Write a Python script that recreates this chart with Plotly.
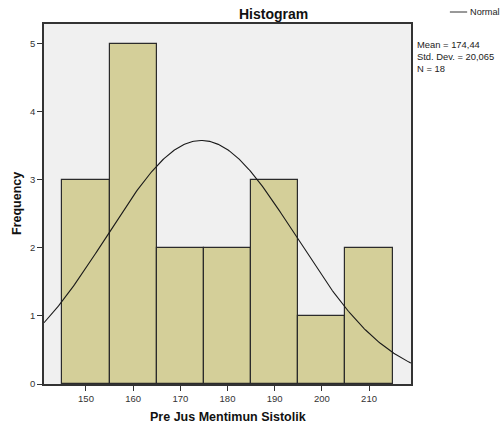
import numpy as np
import plotly.graph_objects as go

# Data
bin_centers = [150, 160, 170, 180, 190, 200, 210]
counts = [3, 5, 2, 2, 3, 1, 2]
bin_width = 10
mean_val = 174.44
sd_val = 20.065
n_val = 18
stats_lines = ["Mean = 174,44", "Std. Dev. = 20,065", "N = 18"]
x_ticks = [150, 160, 170, 180, 190, 200, 210]
y_ticks = [0, 1, 2, 3, 4, 5]

x_range = [141.1, 218.9]
y_range = [0, 5.29]

# Normal curve scaled to the histogram (as SPSS draws it)
xc = np.linspace(x_range[0], x_range[1], 300)
yc = n_val * bin_width / (sd_val * np.sqrt(2 * np.pi)) * np.exp(-0.5 * ((xc - mean_val) / sd_val) ** 2)

FONT = "Liberation Sans, Arial, sans-serif"

fig = go.Figure()
fig.add_trace(go.Bar(
    x=bin_centers, y=counts, width=bin_width,
    marker=dict(color="#D4CF99", line=dict(color="#2b2b2b", width=1.2)),
    showlegend=False, hoverinfo="skip",
))
fig.add_trace(go.Scatter(
    x=xc, y=yc, mode="lines", line=dict(color="#1a1a1a", width=1.1),
    showlegend=False, hoverinfo="skip",
))

fig.update_layout(
    width=501, height=428,
    margin=dict(l=44, r=90, t=24, b=44),
    paper_bgcolor="white",
    plot_bgcolor="#F0F0F0",
    bargap=0,
    font=dict(family=FONT, color="#222"),
    xaxis=dict(
        range=x_range, tickvals=x_ticks, ticks="outside", ticklen=5, tickcolor="#333",
        tickfont=dict(size=9.5, color="#333"),
        showline=True, linecolor="#333", linewidth=1.5, mirror=True,
        showgrid=False, zeroline=False, automargin=False,
    ),
    yaxis=dict(
        range=y_range, tickvals=y_ticks, ticks="outside", ticklen=5, tickcolor="#333",
        tickfont=dict(size=9.5, color="#333"),
        showline=True, linecolor="#333", linewidth=1.5, mirror=True,
        showgrid=False, zeroline=False, automargin=False,
    ),
)

# Axis titles
fig.add_annotation(text="<b>Pre Jus Mentimun Sistolik</b>", xref="paper", yref="paper",
                   x=0.5, y=(384 - 417) / 360, xanchor="center", yanchor="middle",
                   showarrow=False, font=dict(size=12.5, color="#111"))
fig.add_annotation(text="<b>Frequency</b>", xref="paper", yref="paper",
                   x=(17 - 44) / 367, y=0.5, xanchor="center", yanchor="middle",
                   textangle=-90, showarrow=False, font=dict(size=12.5, color="#111"))

# Title
fig.add_annotation(text="<b>Histogram</b>", xref="paper", yref="paper",
                   x=0.624, y=(384 - 14) / 360, xanchor="center", yanchor="middle",
                   showarrow=False, font=dict(size=14, color="#111"))

# Legend (line + text)
fig.add_shape(type="line", xref="paper", yref="paper",
              x0=1.106, x1=1.153, y0=(384 - 12) / 360, y1=(384 - 12) / 360,
              line=dict(color="#333", width=1))
fig.add_annotation(text="Normal", xref="paper", yref="paper",
                   x=1.156, y=(384 - 12) / 360, xanchor="left", yanchor="middle",
                   showarrow=False, font=dict(size=9.2, color="#222"))

# Stats block (one multi-line text)
fig.add_annotation(text="<br>".join(stats_lines), xref="paper", yref="paper",
                   x=(416 - 44) / 367, y=(384 - 38) / 360, xanchor="left", yanchor="top",
                   align="left", borderpad=0,
                   showarrow=False, font=dict(size=9.4, color="#222"))

fig.write_html("out.html")
